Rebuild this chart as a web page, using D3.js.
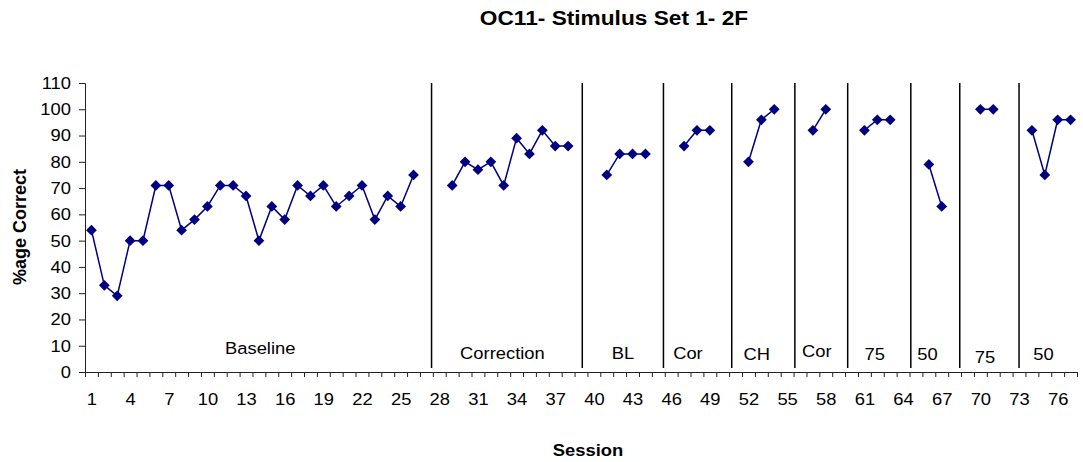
<!DOCTYPE html>
<html>
<head>
<meta charset="utf-8">
<script src="https://cdn.jsdelivr.net/npm/d3@7"></script>
<style>
  body { margin: 0; background: #fff; }
  svg { display: block; font-family: Arial, "Liberation Sans", sans-serif; }
  .axis path, .axis line { stroke: #222; }
  .axis text { font-size: 17px; fill: #000; font-family: Arial, "Liberation Sans", sans-serif; }
</style>
</head>
<body>
<svg width="1083" height="462"></svg>
<script>
// sessions on the category axis
const sessions = d3.range(1, 78);
const xTickLabels = d3.range(1, 78, 3);
const yTicks = d3.range(0, 111, 10);

// phases: name, first session, % correct per session
const phaseNames = ['Baseline', 'Correction', 'BL', 'Cor', 'CH', 'Cor', '75', '50', '75', '50'];
const phaseStart = [1, 29, 41, 47, 52, 57, 61, 66, 70, 74];
const phaseValues = [
  [54, 33, 29, 50, 50, 71, 71, 54, 58, 63, 71, 71, 67, 50, 63, 58, 71, 67, 71, 63, 67, 71, 58, 67, 63, 75],
  [71, 80, 77, 80, 71, 89, 83, 92, 86, 86],
  [75, 83, 83, 83],
  [86, 92, 92],
  [80, 96, 100],
  [92, 100],
  [92, 96, 96],
  [79, 63],
  [100, 100],
  [92, 75, 96, 96]
];

// hand drawn phase change lines (session units) and label anchors
const phaseLines = [27.4, 39.1, 45.4, 50.7, 55.6, 59.7, 64.6, 68.4, 73.0];
const labelSession = [14.1, 32.9, 42.25, 47.3, 52.65, 57.3, 61.8, 65.9, 70.35, 74.9];
const labelValue = [9.1, 7.2, 7.2, 7.2, 6.9, 7.8, 6.9, 6.9, 5.8, 6.9];

const svg = d3.select('svg');
const margin = { left: 85, right: 1077, top: 83, bottom: 372 };
const stretch = 1.08; // the source text is a little wider than Arial

const x = d3.scaleLinear()
  .domain([0.5, sessions.length + 0.5])
  .range([margin.left, margin.right]);
const y = d3.scaleLinear()
  .domain([0, 110])
  .range([margin.bottom, margin.top]);

// x axis: tick marks on category boundaries, labels on every third session
svg.append('g')
  .attr('class', 'axis')
  .attr('transform', `translate(0,${margin.bottom})`)
  .call(d3.axisBottom(x)
    .tickValues(sessions.map(s => s + 0.5).concat([0.5]))
    .tickSize(5)
    .tickFormat(''))
  .call(g => g.select('.domain').attr('d', `M${margin.left},0.5H${margin.right}`));

svg.append('g')
  .attr('class', 'axis')
  .attr('transform', `translate(0,${margin.bottom})`)
  .call(d3.axisBottom(x)
    .tickValues(xTickLabels)
    .tickSize(0)
    .tickPadding(21)
    .tickFormat(d3.format('d')))
  .call(g => g.select('.domain').remove())
  .call(g => g.selectAll('text')
    .attr('transform', `translate(0,${21}) scale(${stretch},1)`)
    .attr('y', 0));

svg.append('g')
  .attr('class', 'axis')
  .attr('transform', `translate(${margin.left},0)`)
  .call(d3.axisLeft(y)
    .tickValues(yTicks)
    .tickSize(6)
    .tickPadding(8))
  .call(g => g.selectAll('text')
    .attr('transform', `translate(-14,0) scale(${stretch},1)`)
    .attr('x', 0));

// phase change lines
svg.append('g')
  .selectAll('line')
  .data(phaseLines)
  .join('line')
  .attr('x1', d => x(d))
  .attr('x2', d => x(d))
  .attr('y1', y(110))
  .attr('y2', y(1.5))
  .attr('stroke', '#000')
  .attr('stroke-width', 1.5);

// phase labels
svg.append('g')
  .selectAll('text')
  .data(phaseNames)
  .join('text')
  .attr('transform', (d, i) => `translate(${x(labelSession[i])},${y(labelValue[i])}) scale(${stretch},1)`)
  .attr('dy', '0.35em')
  .attr('text-anchor', 'middle')
  .attr('font-size', 17)
  .text(d => d);

// data series, one path per phase
const phases = phaseValues.map((vals, i) =>
  vals.map((v, j) => ({ session: phaseStart[i] + j, value: v })));

const line = d3.line()
  .x(d => x(d.session))
  .y(d => y(d.value));

svg.append('g')
  .selectAll('path')
  .data(phases)
  .join('path')
  .attr('d', line)
  .attr('fill', 'none')
  .attr('stroke', '#000080')
  .attr('stroke-width', 1.5);

const diamond = d3.symbol().type(d3.symbolSquare).size(58);
svg.append('g')
  .selectAll('path')
  .data(phases.flat())
  .join('path')
  .attr('d', diamond)
  .attr('transform', d => `translate(${x(d.session)},${y(d.value)}) rotate(45)`)
  .attr('fill', '#000080');

// titles
svg.append('text')
  .attr('transform', `translate(614,25) scale(${stretch},1)`)
  .attr('text-anchor', 'middle')
  .attr('font-size', 21)
  .attr('font-weight', 'bold')
  .text('OC11- Stimulus Set 1- 2F');

svg.append('text')
  .attr('transform', `translate(588,456) scale(${stretch},1)`)
  .attr('text-anchor', 'middle')
  .attr('font-size', 17)
  .attr('font-weight', 'bold')
  .text('Session');

svg.append('text')
  .attr('transform', 'translate(26,227) rotate(-90)')
  .attr('text-anchor', 'middle')
  .attr('font-size', 18)
  .attr('font-weight', 'bold')
  .text('%age Correct');
</script>
</body>
</html>
